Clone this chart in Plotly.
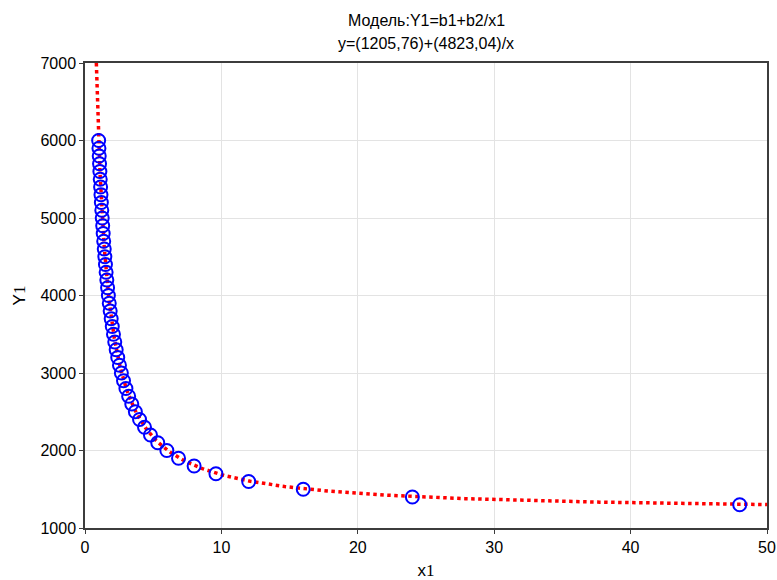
import numpy as np
import plotly.graph_objects as go

# Observed data
x1 = [1.0, 1.0213, 1.0435, 1.0667, 1.0909, 1.1163, 1.1429, 1.1707, 1.2, 1.2308,
      1.2632, 1.2973, 1.3333, 1.3714, 1.4118, 1.4545, 1.5, 1.5484, 1.6, 1.6552,
      1.7143, 1.7778, 1.8462, 1.92, 2.0, 2.087, 2.1818, 2.2857, 2.4, 2.5263,
      2.6667, 2.8235, 3.0, 3.2, 3.4286, 3.6923, 4.0, 4.3636, 4.8, 5.3333,
      6.0, 6.8571, 8.0, 9.6, 12.0, 16.0, 24.0, 48.0]
y1 = [6000, 5900, 5800, 5700, 5600, 5500, 5400, 5300, 5200, 5100,
      5000, 4900, 4800, 4700, 4600, 4500, 4400, 4300, 4200, 4100,
      4000, 3900, 3800, 3700, 3600, 3500, 3400, 3300, 3200, 3100,
      3000, 2900, 2800, 2700, 2600, 2500, 2400, 2300, 2200, 2100,
      2000, 1900, 1800, 1700, 1600, 1500, 1400, 1300]

# Fitted model coefficients: Y1 = b1 + b2/x1
b1 = 1205.76
b2 = 4823.04

title_lines = ["Модель:Y1=b1+b2/x1", "y=(1205,76)+(4823,04)/x"]
x_tick_vals = [0, 10, 20, 30, 40, 50]
y_tick_vals = [1000, 2000, 3000, 4000, 5000, 6000, 7000]

x_start = b2 / (7000 - b1)
xf = np.concatenate([np.linspace(x_start, 3, 300), np.linspace(3, 50, 300)])
yf = b1 + b2 / xf

fig = go.Figure()
fig.add_trace(go.Scatter(
    x=xf, y=yf, mode="lines",
    line=dict(color="red", width=3.5, dash="dot"),
    hoverinfo="skip", showlegend=False,
))
fig.add_trace(go.Scatter(
    x=x1, y=y1, mode="markers",
    marker=dict(symbol="circle-open", size=13, color="blue", line=dict(width=2, color="blue")),
    showlegend=False,
))

FONT = "Liberation Sans, Arial"

axis_common = dict(
    showline=True, linecolor="#3c3c3c", linewidth=1.5, mirror=True,
    showgrid=True, gridcolor="#e3e3e3", gridwidth=1,
    ticks="outside", ticklen=4, tickcolor="#3c3c3c", tickwidth=1,
    zeroline=False, automargin=False,
    tickfont=dict(family=FONT, size=16, color="black"),
)

fig.update_layout(
    width=777, height=580,
    margin=dict(l=85, r=10, t=63, b=52),
    paper_bgcolor="white", plot_bgcolor="white",
    font=dict(family=FONT, color="black"),
    xaxis=dict(
        range=[0, 50], tickvals=x_tick_vals,
        title=dict(text="x<span style='font-family:Liberation Serif'>1</span>",
                   font=dict(size=17), standoff=16),
        **axis_common,
    ),
    yaxis=dict(
        range=[1000, 7000], tickvals=y_tick_vals,
        title=dict(text="Y<span style='font-family:Liberation Serif'>1</span>",
                   font=dict(size=17), standoff=11),
        **axis_common,
    ),
)

# Two-line heading above the plot
for txt, ypx in zip(title_lines, [21, 43]):
    fig.add_annotation(
        text=txt, xref="paper", x=0.5, xanchor="center",
        yref="paper", y=1 + (63 - ypx) / 465, yanchor="middle",
        showarrow=False, font=dict(size=16, family=FONT, color="black"),
    )

fig.write_html("out.html")
